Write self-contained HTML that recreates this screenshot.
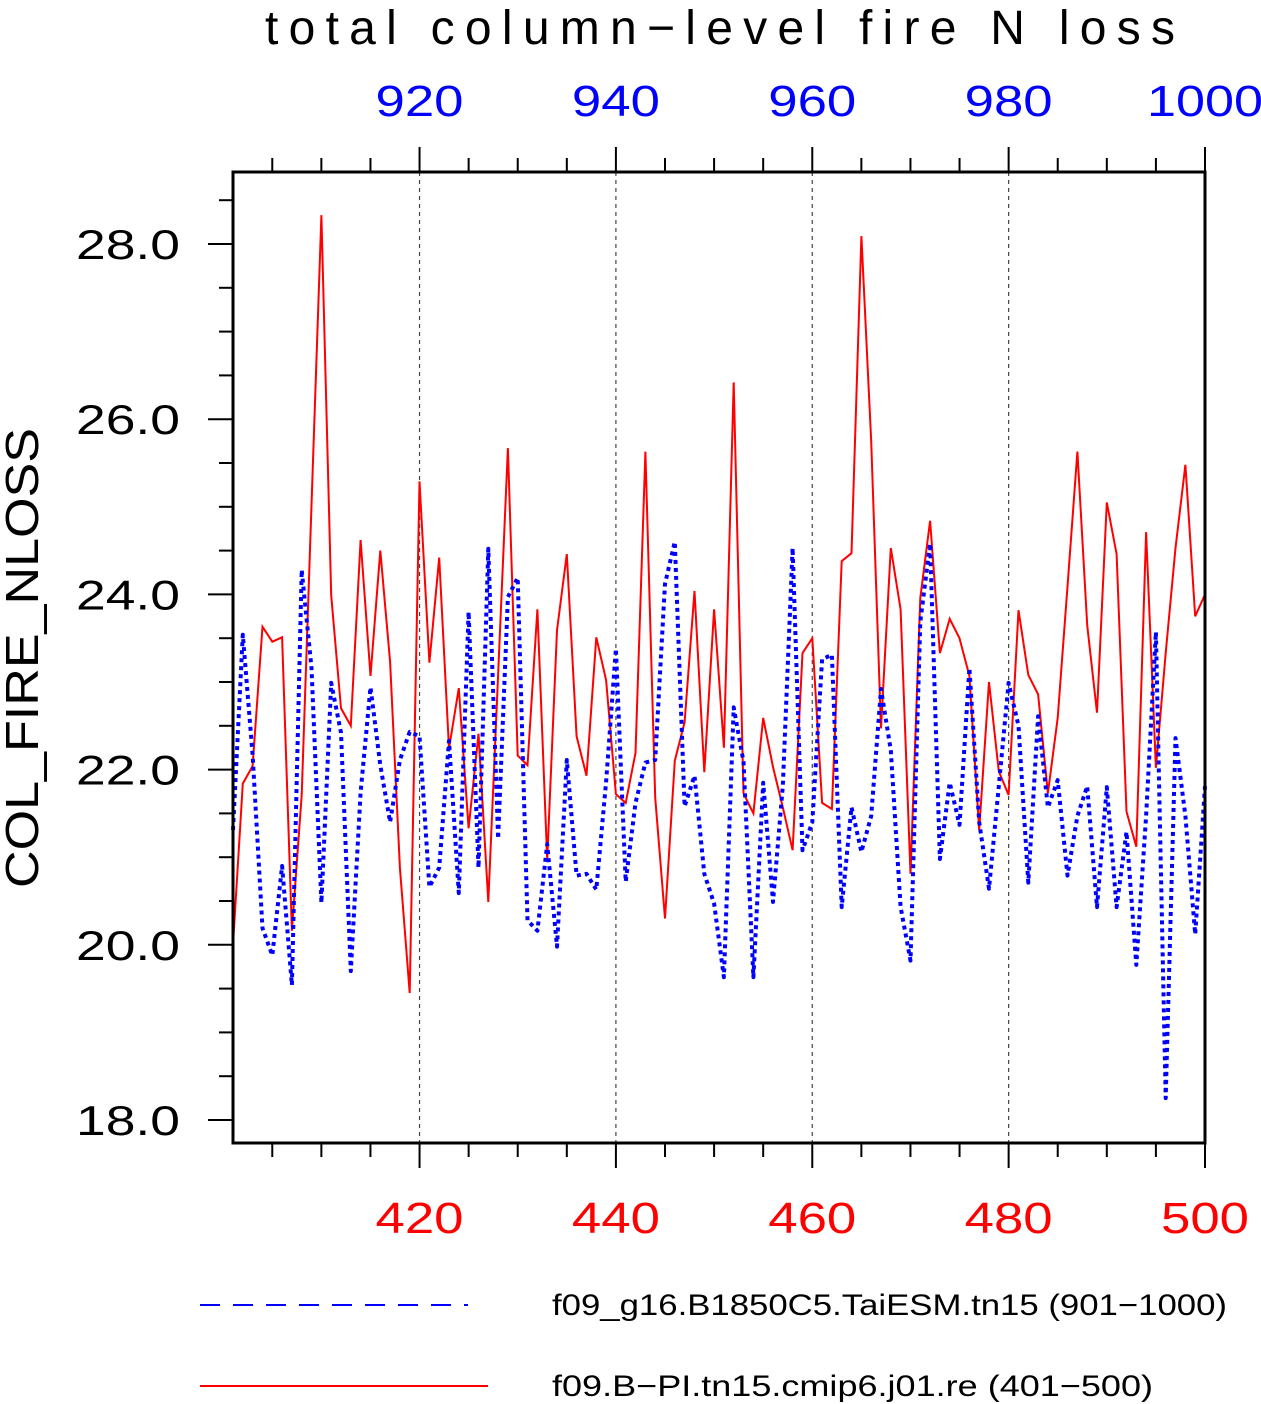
<!DOCTYPE html>
<html><head><meta charset="utf-8"><style>
html,body{margin:0;padding:0;background:#fff}
svg{display:block;font-family:"Liberation Sans",sans-serif}
</style></head><body>
<svg id="chart" width="1261" height="1404" viewBox="0 0 1261 1404" xmlns="http://www.w3.org/2000/svg">
<text x="265" y="44" font-size="48" textLength="910" lengthAdjust="spacing">total column−level fire N loss</text>
<text transform="translate(38,658) rotate(-90)" text-anchor="middle" font-size="46" textLength="460" lengthAdjust="spacingAndGlyphs">COL_FIRE_NLOSS</text>
<g id="grid"></g>
<g id="ticks"></g>
<g id="series"></g>
<rect x="233" y="172" width="972" height="971" fill="none" stroke="#000" stroke-width="3"/>
<g>
<line x1="200" y1="1305" x2="468" y2="1305" stroke="#00f" stroke-width="2" stroke-dasharray="20 13"/>
<text x="552" y="1315" font-size="30" textLength="675" lengthAdjust="spacingAndGlyphs">f09_g16.B1850C5.TaiESM.tn15 (901−1000)</text>
<line x1="200" y1="1386" x2="488" y2="1386" stroke="#f00" stroke-width="2"/>
<text x="552" y="1396" font-size="30" textLength="601" lengthAdjust="spacingAndGlyphs">f09.B−PI.tn15.cmip6.j01.re (401−500)</text>
</g>
</svg>
<script>
const years = Array.from({length:100},(_, i)=>401+i);
const redValues = [20.0,21.84,22.04,23.63,23.46,23.51,20.16,21.71,25.02,28.33,23.99,22.70,22.50,24.62,23.07,24.50,23.23,20.88,19.45,25.29,23.22,24.42,22.24,22.93,21.33,22.41,20.49,23.08,25.67,22.16,22.05,23.83,20.97,23.59,24.46,22.38,21.93,23.51,23.02,21.72,21.62,22.19,25.63,21.68,20.30,22.10,22.54,24.04,21.97,23.83,22.25,26.42,21.73,21.50,22.59,22.03,21.57,21.08,23.33,23.50,21.62,21.55,24.38,24.47,28.09,25.75,22.47,24.53,23.83,20.81,23.96,24.84,23.33,23.72,23.50,23.07,21.31,23.00,21.98,21.71,23.82,23.08,22.86,21.73,22.59,24.09,25.63,23.65,22.65,25.05,24.46,21.52,21.12,24.71,22.02,23.33,24.53,25.48,23.75,24.00];
const blueValues = [21.31,23.54,22.17,20.19,19.88,20.90,19.54,24.28,23.16,20.48,22.99,22.42,19.70,21.74,22.94,22.05,21.40,22.11,22.43,22.38,20.66,20.88,22.33,20.59,23.80,20.88,24.52,21.21,23.97,24.19,20.28,20.16,21.15,19.98,22.11,20.79,20.81,20.63,21.86,23.38,20.72,21.62,22.08,22.11,24.12,24.60,21.58,21.93,20.81,20.47,19.63,22.71,22.09,19.63,21.85,20.49,21.81,24.53,21.08,21.40,23.26,23.31,20.43,21.57,21.06,21.47,22.92,22.22,20.43,19.82,23.69,24.58,20.98,21.85,21.37,23.16,21.40,20.64,21.81,22.99,22.50,20.71,22.61,21.57,21.88,20.79,21.47,21.81,20.43,21.80,20.43,21.29,19.77,21.47,23.57,18.25,22.36,21.47,20.12,21.81];
const yTicks = [18,20,22,24,26,28];
const yTickLabels = ["18.0","20.0","22.0","24.0","26.0","28.0"];
const xBottomTicks = [420,440,460,480,500];
const xTopTickLabels = ["920","940","960","980","1000"];

const NS="http://www.w3.org/2000/svg";
const X0=233,X1=1205,Y0=172,Y1=1143;
const xs = yr => X0 + (yr-401)*(X1-X0)/99;
const ys = v => 1120 - (v-18)*87.6;
function mk(tag, attrs, parent){const e=document.createElementNS(NS,tag);for(const k in attrs)e.setAttribute(k,attrs[k]);parent.appendChild(e);return e;}
const grid=document.getElementById('grid'), ticks=document.getElementById('ticks'), series=document.getElementById('series');

xBottomTicks.forEach(t=>{ if(t<500){ const l=mk('line',{x1:xs(t),x2:xs(t),y1:Y0,y2:Y1,stroke:'#444','stroke-width':1.2,'stroke-dasharray':'4 4'},grid);

 }});

for(let v=18;v<=28.5;v+=0.5){
  const major = Math.abs(v-Math.round(v))<1e-6 && Math.round(v)%2===0;
  const l=mk('line',{x1:X0-(major?25:14),x2:X0,y1:ys(v),y2:ys(v),stroke:'#000','stroke-width':2},ticks);
  
  
}
yTicks.forEach((v,i)=>{const t=mk('text',{x:180,y:ys(v)+15,'text-anchor':'end','font-size':42,textLength:104,lengthAdjust:'spacingAndGlyphs'},ticks);t.textContent=yTickLabels[i];

});

for(let yr=405;yr<=500;yr+=5){
  const major = yr%20===0;
  const len = major?25:14;
  const a=mk('line',{x1:xs(yr),x2:xs(yr),y1:Y0-len,y2:Y0,stroke:'#000','stroke-width':2},ticks);
  
  
  const b=mk('line',{x1:xs(yr),x2:xs(yr),y1:Y1,y2:Y1+len,stroke:'#000','stroke-width':2},ticks);
  
  
}
xBottomTicks.forEach((yr,i)=>{
  const t=mk('text',{x:xs(yr),y:1233,'text-anchor':'middle','font-size':44,fill:'#f00',textLength:88,lengthAdjust:'spacingAndGlyphs'},ticks);t.textContent=String(yr);
  
  
  const w = xTopTickLabels[i].length===4 ? 116 : 88;
  const u=mk('text',{x:xs(yr),y:116,'text-anchor':'middle','font-size':44,fill:'#00f',textLength:w,lengthAdjust:'spacingAndGlyphs'},ticks);u.textContent=xTopTickLabels[i];
  
  
});

const pts = vals => vals.map((v,i)=>xs(years[i]).toFixed(1)+','+ys(v).toFixed(1)).join(' ');
const red=mk('polyline',{points:pts(redValues),fill:'none',stroke:'#f00','stroke-width':2,'stroke-linejoin':'miter'},series);


const blue=mk('polyline',{points:pts(blueValues),fill:'none',stroke:'#00f','stroke-width':4,'stroke-dasharray':'4 4','stroke-linejoin':'round'},series);


</script>
</body></html>
